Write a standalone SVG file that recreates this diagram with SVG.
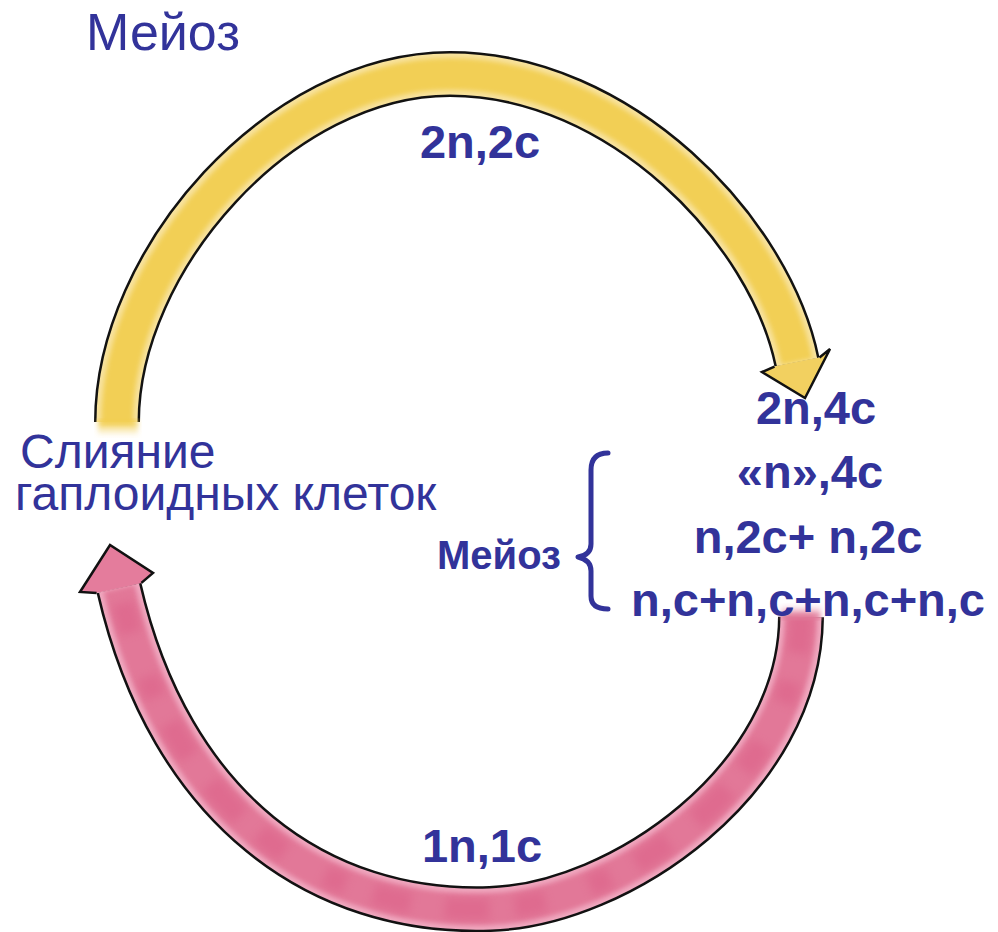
<svg xmlns="http://www.w3.org/2000/svg" width="998" height="932" viewBox="0 0 998 932">
<defs>
<style>
.t{font-family:"Liberation Sans",Arial,sans-serif;fill:#32339A}
.b{font-weight:bold;font-size:47px}
.r{font-size:48px}
.edge{fill:none;stroke:#111;stroke-width:46;stroke-linecap:butt}
.out{fill:none;stroke:#111;stroke-width:2.5;stroke-linejoin:miter}
</style>
<filter id="soft" x="-10%" y="-10%" width="120%" height="120%"><feGaussianBlur stdDeviation="2.5"/></filter>
<filter id="blot" x="-10%" y="-10%" width="120%" height="120%"><feGaussianBlur stdDeviation="5"/></filter>
<linearGradient id="yfade" gradientUnits="userSpaceOnUse" x1="0" y1="420" x2="0" y2="436">
<stop offset="0" stop-color="#F2CD4E" stop-opacity="1"/><stop offset="1" stop-color="#F2CD4E" stop-opacity="0"/></linearGradient>
<linearGradient id="pfade" gradientUnits="userSpaceOnUse" x1="0" y1="619" x2="0" y2="605">
<stop offset="0" stop-color="#E17898" stop-opacity="1"/><stop offset="1" stop-color="#E17898" stop-opacity="0"/></linearGradient>
</defs>
<rect width="998" height="932" fill="#fff"/>
<g id="connectors">
<g id="yellow-arrow">
<path class="edge" d="M117,422 C117,260 280,74 450,74 C620,74 770,230 797,362"/>
<path d="M117,422 C117,260 280,74 450,74 C620,74 770,230 797,362" fill="none" stroke="#F8E3A0" stroke-width="41"/>
<path d="M117,424 C117,260 280,74 450,74 C620,74 770,230 797,362" fill="none" stroke="#F2CF55" stroke-width="32" filter="url(#soft)"/>
<rect x="98" y="420" width="40" height="16" fill="url(#yfade)" filter="url(#soft)"/>
<polygon points="774.5,366.6 762,372 805,398 830,349 819.5,357.4" fill="#F2D060"/>
<polyline class="out" points="774.5,366.6 762,372 805,398 830,349 819.5,357.4"/>
</g>
<g id="pink-arrow">
<path class="edge" d="M801,617 C800,780 620,905 490,909 C320,915 170,810 119,588"/>
<path d="M801,617 C800,780 620,905 490,909 C320,915 170,810 119,588" fill="none" stroke="#F0A9C0" stroke-width="41"/>
<path d="M801,615 C800,780 620,905 490,909 C320,915 170,810 119,588" fill="none" stroke="#E27898" stroke-width="32" filter="url(#soft)"/>
<path d="M801,615 C800,780 620,905 490,909 C320,915 170,810 119,588" fill="none" stroke="#D9537F" stroke-width="22" stroke-dasharray="38 30 22 47 31 26 44 35" opacity="0.35" filter="url(#blot)"/>
<rect x="781" y="605" width="40" height="14" fill="url(#pfade)" filter="url(#soft)"/>
<polygon points="96.6,593.1 80,592 110,545 153,573 141.4,582.9" fill="#E47C9C"/>
<polyline class="out" points="96.6,593.1 80,592 110,545 153,573 141.4,582.9"/>
</g>
</g>
<g id="title-meiosis"><text class="t" x="86" y="50" font-size="52">Мейоз</text></g>
<g id="label-2n2c"><text class="t b" x="480" y="158" text-anchor="middle">2n,2c</text></g>
<g id="label-fusion">
<text class="t r" x="20" y="468">Слияние</text>
<text class="t r" x="15" y="510">гаплоидных клеток</text>
</g>
<g id="stages">
<text class="t b" x="816" y="424" text-anchor="middle">2n,4c</text>
<text class="t b" x="810" y="488" text-anchor="middle">«n»,4c</text>
<text class="t b" x="808" y="553" text-anchor="middle">n,2c+ n,2c</text>
<text class="t b" x="808" y="616" text-anchor="middle">n,c+n,c+n,c+n,c</text>
</g>
<g id="meiosis-brace">
<text class="t" x="437" y="569" font-size="40" font-weight="bold">Мейоз</text>
<path d="M608,453 Q591,453 591,470 L591,544 Q591,555 578,557 Q591,560 591,571 L591,596 Q591,609 608,609" fill="none" stroke="#32339A" stroke-width="5" stroke-linecap="round" stroke-linejoin="round"/>
</g>
<g id="label-1n1c"><text class="t b" x="482" y="862" text-anchor="middle">1n,1c</text></g>
</svg>
